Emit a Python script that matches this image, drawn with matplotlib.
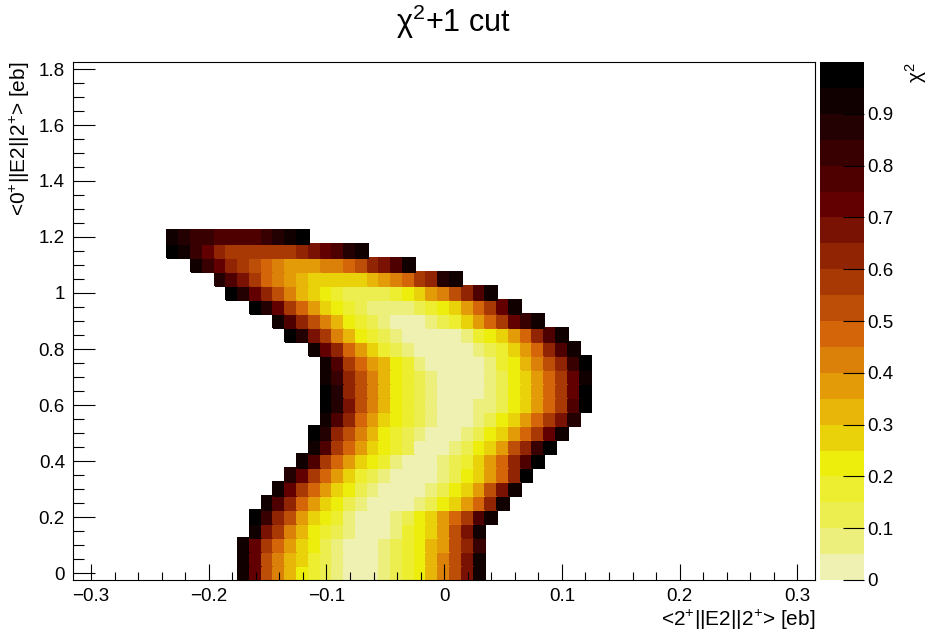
import numpy as np
import matplotlib.pyplot as plt
from matplotlib.colors import ListedColormap, BoundaryNorm
from matplotlib.ticker import MultipleLocator, FuncFormatter

plt.rcParams['font.family'] = ['Liberation Sans', 'DejaVu Sans']
plt.rcParams['mathtext.fontset'] = 'custom'
plt.rcParams['mathtext.rm'] = 'Liberation Sans'
plt.rcParams['mathtext.it'] = 'Liberation Sans:italic'

# chi2 map, one entry per y bin; bins are 0.01 wide in x, 0.05 high in y.
# each number is the chi2 contour level (level i -> chi2 in [0.05*i, 0.05*(i+1)))
row_y = [0.00, 0.05, 0.10, 0.15, 0.20, 0.25, 0.30, 0.35, 0.40, 0.45, 0.50, 0.55,
         0.60, 0.65, 0.70, 0.75, 0.80, 0.85, 0.90, 0.95, 1.00, 1.05, 1.10, 1.15, 1.20]
row_x0 = [-0.17, -0.17, -0.17, -0.16, -0.16, -0.15, -0.14, -0.13, -0.12, -0.11, -0.11, -0.10,
          -0.10, -0.10, -0.10, -0.10, -0.11, -0.13, -0.14, -0.16, -0.18, -0.19, -0.21, -0.23, -0.23]
row_levels = [
    [18, 14, 10, 8, 6, 4, 3, 2, 1, 0, 0, 0, 1, 2, 3, 4, 6, 8, 10, 13, 18],
    [18, 14, 10, 8, 6, 5, 3, 2, 1, 0, 0, 0, 1, 2, 3, 4, 6, 8, 10, 13, 18],
    [18, 14, 11, 9, 7, 5, 4, 2, 1, 0, 0, 0, 1, 2, 3, 4, 6, 7, 10, 12, 16],
    [18, 13, 11, 8, 6, 4, 3, 2, 1, 0, 0, 0, 1, 3, 4, 5, 7, 10, 13, 18],
    [19, 16, 12, 10, 7, 5, 4, 3, 1, 0, 0, 0, 1, 2, 4, 5, 7, 9, 11, 15, 18],
    [18, 15, 12, 9, 7, 5, 4, 2, 1, 0, 0, 0, 0, 1, 2, 4, 5, 7, 9, 12, 18],
    [18, 14, 11, 9, 7, 5, 4, 2, 1, 0, 0, 0, 0, 1, 2, 4, 5, 7, 10, 13, 18],
    [17, 14, 11, 9, 7, 5, 3, 2, 1, 0, 0, 0, 0, 1, 2, 4, 5, 7, 9, 12, 19],
    [18, 15, 11, 9, 7, 5, 4, 3, 1, 0, 0, 0, 1, 2, 3, 5, 7, 9, 12, 15, 19],
    [18, 15, 11, 9, 7, 5, 4, 3, 2, 0, 0, 0, 1, 2, 4, 5, 7, 10, 12, 16, 19],
    [19, 17, 12, 10, 8, 6, 4, 3, 2, 1, 0, 0, 0, 1, 2, 4, 5, 7, 9, 11, 14, 18],
    [18, 15, 12, 9, 7, 5, 4, 3, 2, 1, 0, 0, 0, 1, 2, 4, 5, 7, 9, 11, 13, 17],
    [19, 17, 13, 10, 8, 6, 4, 3, 2, 1, 0, 0, 0, 1, 1, 2, 4, 5, 7, 9, 11, 15, 19],
    [19, 17, 12, 10, 8, 6, 4, 3, 2, 1, 0, 0, 0, 0, 1, 2, 4, 5, 7, 9, 11, 14, 19],
    [18, 16, 12, 10, 8, 6, 4, 3, 2, 1, 0, 0, 0, 0, 1, 2, 4, 5, 7, 9, 11, 14, 18],
    [18, 15, 11, 9, 7, 6, 4, 3, 1, 0, 0, 0, 0, 0, 1, 3, 4, 6, 8, 10, 12, 16, 19],
    [18, 14, 12, 9, 7, 5, 3, 2, 1, 0, 0, 0, 0, 0, 1, 2, 3, 5, 7, 9, 12, 15, 18],
    [19, 17, 13, 11, 8, 6, 4, 3, 2, 1, 0, 0, 0, 0, 0, 1, 3, 4, 5, 7, 9, 12, 15, 18],
    [18, 15, 12, 10, 8, 6, 4, 3, 2, 1, 0, 0, 0, 1, 2, 3, 5, 7, 9, 11, 14, 16, 18],
    [19, 17, 14, 11, 9, 7, 5, 4, 3, 2, 1, 1, 1, 1, 2, 3, 4, 5, 7, 9, 11, 14, 18],
    [19, 17, 14, 12, 10, 8, 6, 5, 4, 3, 2, 2, 2, 2, 3, 4, 5, 7, 8, 10, 12, 15, 18],
    [17, 15, 13, 11, 9, 8, 7, 6, 5, 5, 5, 5, 5, 6, 7, 8, 9, 11, 12, 17, 18],
    [18, 16, 14, 12, 11, 10, 9, 8, 7, 7, 7, 8, 8, 9, 10, 12, 13, 15, 18],
    [19, 18, 16, 14, 12, 11, 11, 11, 11, 11, 11, 12, 13, 14, 15, 17, 18],
    [18, 17, 16, 16, 15, 15, 15, 15, 16, 17, 18, 19],
]

# histogram binning: x bins centred on multiples of 0.01, y bins on multiples of 0.05
x_edges = np.round(np.arange(-0.315, 0.3151, 0.01), 4)
y_edges = np.round(np.arange(-0.025, 1.8251, 0.05), 4)
z = np.full((len(y_edges) - 1, len(x_edges) - 1), np.nan)
for y, x0, lv in zip(row_y, row_x0, row_levels):
    j = int(round(y / 0.05))
    i0 = int(round((x0 + 0.31) / 0.01))
    z[j, i0:i0 + len(lv)] = (np.array(lv) + 0.5) * 0.05
z = np.ma.masked_invalid(z)

# inverted "dark body radiator" palette, 20 contour levels
st = np.linspace(0, 1, 9)
red = np.array([0, 45, 99, 156, 212, 230, 237, 234, 242]) / 255
green = np.array([0, 0, 0, 45, 101, 168, 238, 238, 243]) / 255
blue = np.array([0, 1, 1, 3, 9, 8, 11, 95, 230]) / 255
colors = []
for i in range(20):
    p = 1 - int((i + 0.99) * 255 / 20) / 254
    colors.append((np.interp(p, st, red), np.interp(p, st, green), np.interp(p, st, blue)))
cmap = ListedColormap(colors)
norm = BoundaryNorm(np.linspace(0, 1, 21), 20)

fig = plt.figure(figsize=(9.32, 6.32), dpi=100)
ax = fig.add_axes([73.3 / 932, 1 - 580 / 632, (815 - 73.3) / 932, 518 / 632])
mesh = ax.pcolormesh(x_edges, y_edges, z, cmap=cmap, norm=norm, edgecolors='face', linewidth=0.2)
ax.set_xlim(-0.315, 0.315)
ax.set_ylim(-0.025, 1.825)

fmt = FuncFormatter(lambda v, p: ('%g' % round(v, 3)).replace('-', '\u2212'))
ax.xaxis.set_major_locator(MultipleLocator(0.1))
ax.xaxis.set_minor_locator(MultipleLocator(0.02))
ax.yaxis.set_major_locator(MultipleLocator(0.2))
ax.yaxis.set_minor_locator(MultipleLocator(0.05))
ax.xaxis.set_major_formatter(fmt)
ax.yaxis.set_major_formatter(fmt)
ax.tick_params(axis='x', which='major', direction='in', length=11.5, width=0.8, labelsize=13.5, pad=6)
ax.tick_params(axis='x', which='minor', direction='in', length=5.8, width=0.8)
ax.tick_params(axis='y', which='major', direction='in', length=16, width=0.8, labelsize=13.5, pad=6)
ax.tick_params(axis='y', which='minor', direction='in', length=8, width=0.8)
for s in ax.spines.values():
    s.set_linewidth(0.8)

cax = fig.add_axes([820 / 932, 1 - 580 / 632, 44 / 932, 518 / 632])
cb = fig.colorbar(mesh, cax=cax)
cb.outline.set_visible(False)
cb.set_ticks(np.arange(0, 0.95, 0.1))
cb.ax.yaxis.set_major_formatter(fmt)
cb.ax.tick_params(direction='in', length=15, width=0.8, labelsize=13.5, pad=2)
cb.ax.minorticks_off()

fig.text(453 / 932, 1 - 22 / 632, '\u03c7$^{2}$+1 cut', ha='center', va='center', fontsize=22)
fig.text(20 / 932, 1 - 62 / 632, '<0$^{+}$||E2||2$^{+}$> [eb]', rotation=90,
         ha='center', va='top', fontsize=15)
fig.text(815 / 932, 1 - 620 / 632, '<2$^{+}$||E2||2$^{+}$> [eb]', ha='right', va='center', fontsize=15)
fig.text(916 / 932, 1 - 62 / 632, '\u03c7$^{2}$', rotation=90, ha='center', va='top', fontsize=15)

plt.savefig('out.png', dpi=100, facecolor='white')
